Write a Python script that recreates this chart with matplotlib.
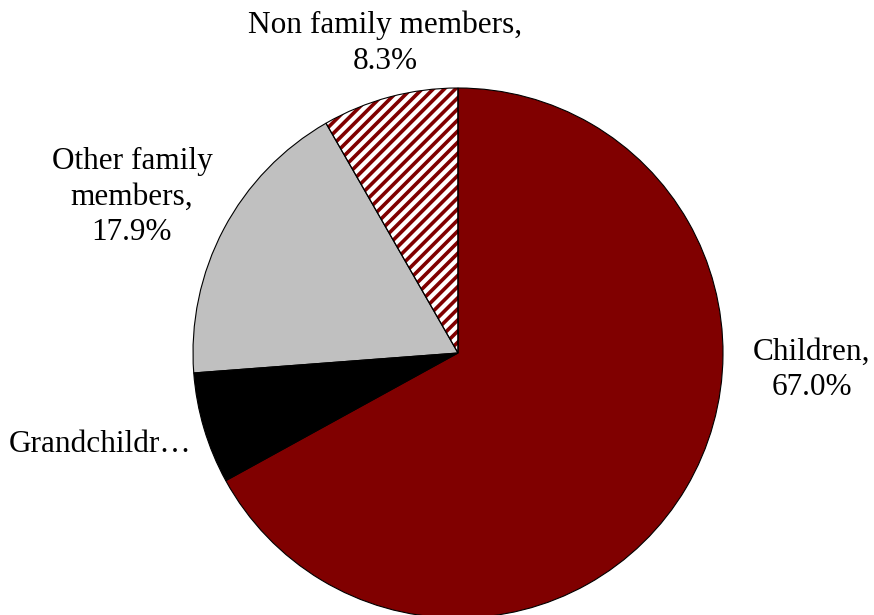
import matplotlib
matplotlib.use('Agg')
import matplotlib.pyplot as plt

categories = ['Children', 'Grandchildren', 'Other family members', 'Non family members']
shares = [67.0, 6.8, 17.9, 8.3]
label_texts = ['Children,\n67.0%', 'Grandchildr\u2026', 'Other family\nmembers,\n17.9%', 'Non family members,\n8.3%']

colors = ['#800000', '#000000', '#C0C0C0', '#FFFFFF']
label_pos = [(812, 245), (100, 170), (132, 418), (385, 572)]

plt.rcParams['font.family'] = ['Liberation Serif', 'DejaVu Serif']
plt.rcParams['hatch.linewidth'] = 2.6

fig = plt.figure(figsize=(8.74, 6.15), dpi=100)
ax = fig.add_axes([0, 0, 1, 1])

center = (458, 262)
radius = 265

# filled wedges (hatch on the last one, maroon stripes)
wedges, _ = ax.pie(shares, colors=colors, startangle=90, counterclock=False,
                   center=center, radius=radius, frame=True,
                   wedgeprops=dict(linewidth=0))
wedges[3].set_edgecolor('#800000')
wedges[3].set_hatch('///')

# black outlines on top
ax.pie(shares, colors=['none'] * 4, startangle=90, counterclock=False,
       center=center, radius=radius, frame=True,
       wedgeprops=dict(linewidth=0.8, edgecolor='black', fill=False))

for txt, (x, y) in zip(label_texts, label_pos):
    ax.text(x, y, txt, ha='center', va='center', fontsize=22.5,
            linespacing=1.3, color='black')

ax.set_xlim(0, 874)
ax.set_ylim(0, 615)
ax.set_aspect('equal')
ax.axis('off')

fig.savefig('out.png', dpi=100)
